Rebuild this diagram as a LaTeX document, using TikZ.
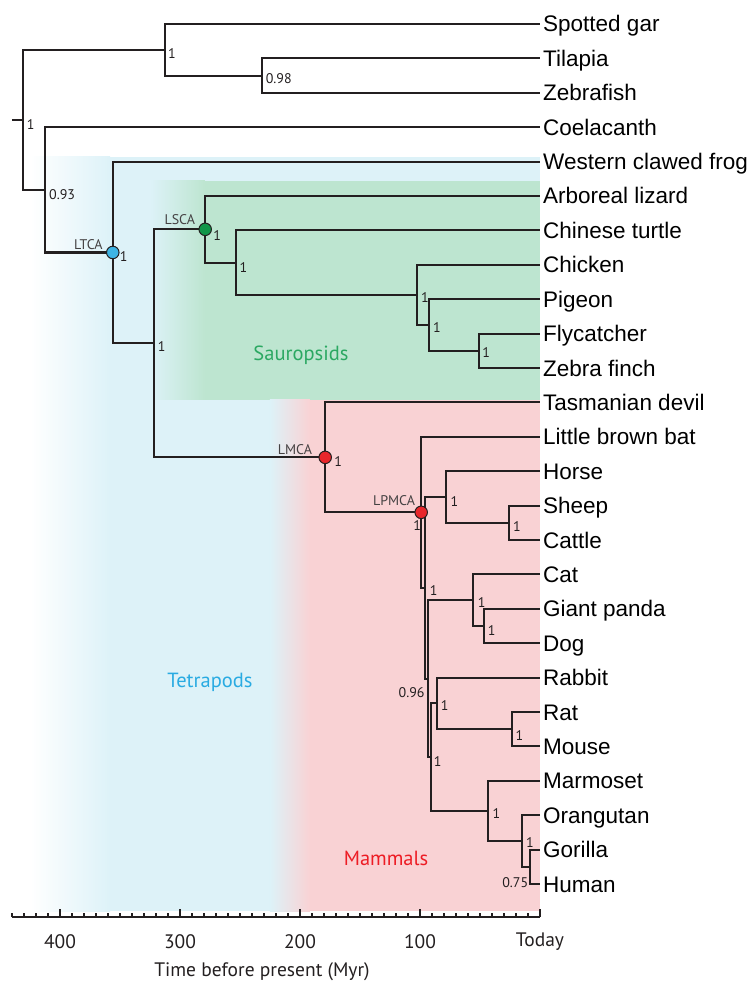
\documentclass[tikz,border=0pt]{standalone}
\usepackage{fontspec}
\setmainfont{Liberation Sans}
\newfontfamily\labfont{PT Sans}

\definecolor{ink}{RGB}{35,31,32}
\definecolor{tetrabg}{RGB}{221,242,248}
\definecolor{saurobg}{RGB}{189,229,208}
\definecolor{mammbg}{RGB}{249,210,212}
\definecolor{tetratext}{RGB}{41,171,226}
\definecolor{saurotext}{RGB}{43,168,98}
\definecolor{mammtext}{RGB}{237,28,36}
\definecolor{ltcafill}{RGB}{61,180,229}
\definecolor{lscafill}{RGB}{16,150,72}
\definecolor{lmcafill}{RGB}{232,38,43}

\tikzset{
  branch/.style={draw=ink, line width=2.1pt},
  tip/.style={anchor=west, inner xsep=3pt, inner ysep=0pt, text height=16pt, text depth=0pt,
    font=\fontsize{22.5}{24}\selectfont},
  sup/.style={inner sep=0pt, text=ink, font=\labfont\fontsize{14}{16}\selectfont},
  anc/.style={sup, anchor=south east, text=ink!85},
  dot/.style={circle, draw=ink, line width=1pt, minimum size=12.5pt, inner sep=0pt},
  group/.style={inner sep=0pt, font=\labfont\fontsize{20.5}{22}\selectfont},
  axlab/.style={inner sep=0pt, text=ink, font=\labfont\fontsize{19.5}{21}\selectfont},
}

\begin{document}
\begin{tikzpicture}[x=-1.2pt, y=-34.4pt, line join=miter]
\useasboundingbox (450,-0.6977) rectangle (-175,27.907);
\def\axrow{25.96}

% clade backgrounds
\fill[tetrabg] (359,3.866) rectangle (0,25.785);
\shade[left color=white, right color=tetrabg] (425,3.866) rectangle (358.3,25.785);
\fill[saurobg] (280,4.564) rectangle (0,10.93);
\shade[left color=tetrabg, right color=saurobg] (325,4.564) rectangle (279.2,10.93);
\fill[mammbg] (192.5,10.93) rectangle (0,25.785);
\shade[left color=tetrabg, right color=mammbg] (225,10.93) rectangle (191.7,25.785);

\node[group, text=saurotext] (sauro) at (199.2,9.62) {Sauropsids};
\node[group, text=tetratext] (tetra) at (275,19.13) {Tetrapods};
\node[group, text=mammtext] (mamm) at (128.3,24.27) {Mammals};

% leaves
\foreach \name/\txt [count=\r from 0] in {gar/Spotted gar, tilapia/Tilapia, zebrafish/Zebrafish,
    coel/Coelacanth, frog/Western clawed frog, lizard/Arboreal lizard, turtle/Chinese turtle,
    chicken/Chicken, pigeon/Pigeon, flycatcher/Flycatcher, finch/Zebra finch,
    devil/Tasmanian devil, bat/Little brown bat, horse/Horse, sheep/Sheep, cattle/Cattle,
    cat/Cat, panda/Giant panda, dog/Dog, rabbit/Rabbit, rat/Rat, mouse/Mouse,
    marmoset/Marmoset, orangutan/Orangutan, gorilla/Gorilla, human/Human}
  \node[tip] (\name) at (0,\r) {\txt};

% internal nodes (Myr, row)
\coordinate (stub) at (440,2.7854);
\coordinate (root) at (431,2.7854);
\coordinate (actino) at (312.5,0.75);
\coordinate (teleo) at (232,1.5);
\coordinate (sarco) at (412.5,4.8208);
\coordinate (ltca) at (356,6.6416);
\coordinate (amnio) at (322,9.2832);
\coordinate (lsca) at (279,5.9688);
\coordinate (turtbird) at (253,6.9375);
\coordinate (birds) at (102.5,7.875);
\coordinate (neoav) at (92.5,8.75);
\coordinate (passer) at (51,9.5);
\coordinate (lmca) at (179,12.5977);
\coordinate (lpmca) at (99,14.1953);
\coordinate (bor) at (96,16.3906);
\coordinate (ung) at (78,13.75);
\coordinate (rumin) at (26,14.5);
\coordinate (bor2) at (93.5,19.0313);
\coordinate (carniv) at (56,16.75);
\coordinate (pandog) at (47,17.5);
\coordinate (euarch) at (91,21.3125);
\coordinate (glires) at (86,19.75);
\coordinate (rodent) at (23,20.5);
\coordinate (primat) at (43,22.875);
\coordinate (homin) at (15,23.75);
\coordinate (gorhum) at (8,24.5);

% branches
\draw[branch] (stub) -- (root);
\foreach \p/\c in {root/actino, root/sarco, actino/gar.west, actino/teleo,
    teleo/tilapia.west, teleo/zebrafish.west, sarco/coel.west, sarco/ltca,
    ltca/frog.west, ltca/amnio, amnio/lsca, amnio/lmca,
    lsca/lizard.west, lsca/turtbird, turtbird/turtle.west, turtbird/birds,
    birds/chicken.west, birds/neoav, neoav/pigeon.west, neoav/passer,
    passer/flycatcher.west, passer/finch.west,
    lmca/devil.west, lmca/lpmca, lpmca/bat.west, lpmca/bor,
    bor/ung, bor/bor2, ung/horse.west, ung/rumin, rumin/sheep.west, rumin/cattle.west,
    bor2/carniv, bor2/euarch, carniv/cat.west, carniv/pandog,
    pandog/panda.west, pandog/dog.west,
    euarch/glires, euarch/primat, glires/rabbit.west, glires/rodent,
    rodent/rat.west, rodent/mouse.west, primat/marmoset.west, primat/homin,
    homin/orangutan.west, homin/gorhum, gorhum/gorilla.west, gorhum/human.west}
  \draw[branch] (\p) |- (\c);

% ancestors
\node[dot, fill=ltcafill] (ltcadot) at (ltca) {};
\node[dot, fill=lscafill] (lscadot) at (lsca) {};
\node[dot, fill=lmcafill] (lmcadot) at (lmca) {};
\node[dot, fill=lmcafill] (lpmcadot) at (lpmca) {};
\node[anc] (ltcalab) at ([xshift=-10pt,yshift=2.5pt]ltca) {LTCA};
\node[anc] (lscalab) at ([xshift=-10pt,yshift=4pt]lsca) {LSCA};
\node[anc] (lmcalab) at ([xshift=-13pt,yshift=2pt]lmca) {LMCA};
\node[anc] (lpmcalab) at ([xshift=-6pt,yshift=6pt]lpmca) {LPMCA};

% support values
\foreach \n/\dx/\dy/\v in {root/4/-5/1, actino/3/-4/1, teleo/4/-3.5/0.98, sarco/4/-5/0.93,
    ltca/7/-4/1, lsca/8/-6/1, amnio/4/-3/1, turtbird/3/-4.5/1, birds/4/-3/1,
    neoav/4/-3/1, passer/3.5/-2/1, lmca/9/-4/1, ung/4/-5/1, rumin/4/-4/1,
    bor/5/-2.5/1, carniv/5/-2/1, pandog/4/-5/1, glires/4/-2.5/1, rodent/3/-6/1,
    euarch/3/-4/1, primat/4/-3/1, homin/4/-2/1}
  \node[sup, anchor=west] (s-\n) at ([xshift=\dx pt,yshift=\dy pt]\n) {\v};
\node[sup, anchor=north east] (s-lpmca) at ([xshift=0pt,yshift=-8pt]lpmca) {1};
\node[sup, anchor=east] (s-bor2) at ([xshift=-3pt,yshift=-14pt]bor2) {0.96};
\node[sup, anchor=east] (s-gorhum) at ([xshift=-2pt,yshift=-16pt]gorhum) {0.75};

% time axis
\draw[draw=ink, line width=1.5pt] (440,\axrow) -- (0,\axrow);
\foreach \t in {0,10,...,440} \draw[draw=ink, line width=1.2pt] (\t,\axrow) -- ++(0pt,4.5pt);
\foreach \t in {0,100,...,400} \draw[draw=ink, line width=1.2pt] (\t,\axrow) -- ++(0pt,8.5pt);
\foreach \t in {400,300,200,100} \node[axlab] (t\t) at (\t,26.69) {\t};
\node[axlab] (today) at (0,26.69) {Today};
\node[axlab] (axtitle) at (231.7,27.56) {Time before present (Myr)};
\end{tikzpicture}
\end{document}
